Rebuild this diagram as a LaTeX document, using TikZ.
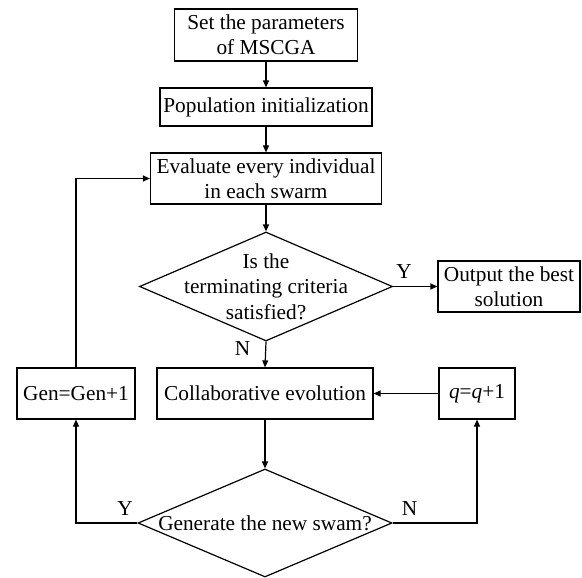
\documentclass[tikz,border=0pt]{standalone}
\usepackage{fontspec}
\setmainfont{Liberation Serif}
\usetikzlibrary{shapes.geometric,arrows.meta}
\tikzset{
  stepbox/.style={shape=rectangle, draw, line width=0.6pt, inner sep=0pt, align=center},
  decision/.style={shape=diamond, draw, line width=0.6pt, inner sep=0pt},
  flow/.style={line width=0.6pt, -{Triangle[length=3.5pt,width=3pt]}},
  yn/.style={inner sep=3.5pt}
}
\begin{document}
\begin{tikzpicture}[x=0.5pt, y=-0.5pt, font=\fontsize{10.65}{12.7}\selectfont]
        \useasboundingbox (0,0) rectangle (582,577);
        \node[stepbox, minimum width=91.5pt, minimum height=26pt] (setpar) at (266, 35) {Set the parameters\\of MSCGA};
        \node[stepbox, minimum width=106pt, minimum height=19pt] (init) at (266, 107) {Population initialization};
        \node[stepbox, minimum width=115.5pt, minimum height=25.5pt] (eval) at (266, 178.5) {Evaluate every individual\\in each swarm};
        \node[decision, minimum width=126.5pt, minimum height=54.5pt, label={[align=center]center:{Is the\\terminating criteria\\satisfied?}}] (term) at (266, 286.5) {};
        \node[stepbox, minimum width=71pt, minimum height=25.5pt] (out) at (509, 286.5) {Output the best\\solution};
        \node[stepbox, minimum width=108pt, minimum height=25.5pt] (collab) at (265, 393.5) {Collaborative evolution};
        \node[stepbox, minimum width=59pt, minimum height=25.5pt] (gen) at (76, 393.5) {Gen=Gen+1};
        \node[stepbox, minimum width=38pt, minimum height=25.5pt] (incq) at (477, 393.5) {\textit{q}=\textit{q}+1};
        \node[decision, minimum width=127pt, minimum height=54pt, label={center:Generate the new swam?}] (newsw) at (265, 523) {};
        \draw[flow] (setpar) to (init);
        \draw[flow] (init) to (eval);
        \draw[flow] (eval) to (term);
        \draw[flow] (term.east) to node[yn, pos=0.25, above] (yterm) {Y} (out.west);
        \draw[flow] (term.south) to node[yn, pos=0.25, left=4pt] (nterm) {N} (collab.north);
        \draw[flow] (collab) to (newsw);
        \draw[flow] (incq.west) to (collab.east);
        \draw[flow] (newsw.west) -| node[yn, pos=0.1, above] (ynew) {Y} (gen.south);
        \draw[flow] (newsw.east) -| node[yn, pos=0.1, above] (nnew) {N} (incq.south);
        \draw[flow] (gen.north) |- (eval.west);
    \end{tikzpicture}
\end{document}
